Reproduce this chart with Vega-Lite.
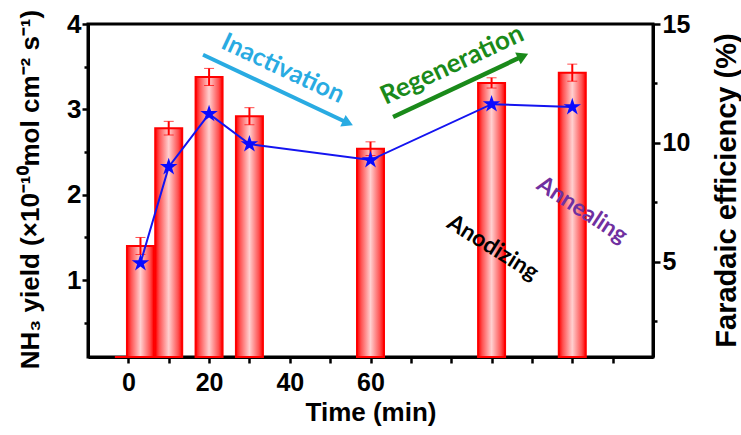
{
  "$schema": "https://vega.github.io/schema/vega-lite/v6.json",
  "width": 565,
  "height": 333,
  "autosize": {"type": "none"},
  "padding": {"left": 88, "top": 24, "right": 88, "bottom": 78},
  "background": "white",
  "datasets": {
    "main": [
      {"time": 0, "yield": 0.1, "err": null, "fe": null},
      {"time": 3, "yield": 1.40, "err": 0.10, "fe": 4.95},
      {"time": 10, "yield": 2.78, "err": 0.08, "fe": 8.99},
      {"time": 20, "yield": 3.38, "err": 0.10, "fe": 11.22},
      {"time": 30, "yield": 2.92, "err": 0.10, "fe": 9.95},
      {"time": 60, "yield": 2.54, "err": 0.08, "fe": 9.28},
      {"time": 90, "yield": 3.31, "err": 0.06, "fe": 11.63},
      {"time": 110, "yield": 3.43, "err": 0.10, "fe": 11.51}
    ]
  },
  "layer": [
    {
      "layer": [
        {
          "data": {"name": "main"},
          "mark": {
            "type": "bar",
            "size": 27,
            "stroke": "#ff0000",
            "strokeWidth": 2,
            "fill": {
              "gradient": "linear",
              "x1": 0, "y1": 0, "x2": 1, "y2": 0,
              "stops": [
                {"offset": 0, "color": "#ff0000"},
                {"offset": 0.15, "color": "#ff5050"},
                {"offset": 0.5, "color": "#ffd0d0"},
                {"offset": 0.85, "color": "#ff5050"},
                {"offset": 1, "color": "#ff0000"}
              ]
            }
          },
          "encoding": {
            "x": {
              "field": "time", "type": "quantitative",
              "scale": {"domain": [-10, 130], "nice": false, "zero": false, "padding": 0},
              "title": "Time (min)",
              "axis": {
                "values": [0, 10, 20, 30, 40, 50, 60, 70, 80, 90, 100, 110, 120],
                "labelExpr": "datum.value <= 60 && datum.value % 20 == 0 ? datum.label : ''",
                "tickSize": 6,
                "labelBaseline": "alphabetic",
                "labelPadding": 27,
                "labelFontSize": 25,
                "titleFontSize": 26,
                "titleBaseline": "alphabetic",
                "titleY": 63
              }
            },
            "y": {
              "field": "yield", "type": "quantitative",
              "scale": {"domain": [0.1, 4], "nice": false, "zero": false},
              "title": "NH₃ yield (×10⁻¹⁰mol cm⁻² s⁻¹)",
              "axis": {
                "values": [0.5, 1, 1.5, 2, 2.5, 3, 3.5, 4],
                "labelExpr": "datum.value % 1 == 0 ? format(datum.value, 'd') : ''",
                "tickSize": {"condition": {"test": "datum.value % 1 != 0", "value": 4}, "value": 6},
                "labelPadding": 1,
                "labelFontSize": 26,
                "titleFontSize": 26,
                "titleAngle": 270,
                "titleBaseline": "middle",
                "titleAlign": "center",
                "titleX": -58,
                "titleY": 165
              }
            },
            "y2": {"datum": 0.1}
          }
        },
        {
          "data": {"name": "main"},
          "transform": [{"filter": "datum.err != null"}],
          "mark": {
            "type": "errorbar",
            "color": "#ff0000",
            "ticks": {"size": 10, "strokeWidth": 2, "color": "#ff0000"},
            "rule": {"strokeWidth": 2, "color": "#ff0000"}
          },
          "encoding": {
            "x": {"field": "time", "type": "quantitative", "title": "Time (min)"},
            "y": {"field": "yield", "type": "quantitative", "title": "NH₃ yield (×10⁻¹⁰mol cm⁻² s⁻¹)"},
            "yError": {"field": "err"}
          }
        },
        {
          "data": {"values": [
            {"time": 18.5, "yield": 3.64, "time2": 54.4, "yield2": 2.84, "arrow": "Inactivation"}
          ]},
          "mark": {"type": "rule", "color": "#29abe2", "strokeWidth": 4},
          "encoding": {
            "x": {"field": "time", "type": "quantitative", "title": "Time (min)"},
            "y": {"field": "yield", "type": "quantitative", "title": "NH₃ yield (×10⁻¹⁰mol cm⁻² s⁻¹)"},
            "x2": {"field": "time2"},
            "y2": {"field": "yield2"}
          }
        },
        {
          "data": {"values": [{"time": 54.4, "yield": 2.84}]},
          "mark": {"type": "point", "shape": "triangle-right", "filled": true, "opacity": 1, "color": "#29abe2", "size": 160, "angle": 25},
          "encoding": {
            "x": {"field": "time", "type": "quantitative", "title": "Time (min)"},
            "y": {"field": "yield", "type": "quantitative", "title": "NH₃ yield (×10⁻¹⁰mol cm⁻² s⁻¹)"}
          }
        },
        {
          "data": {"values": [
            {"time": 65.6, "yield": 2.91, "time2": 97.8, "yield2": 3.625, "arrow": "Regeneration"}
          ]},
          "mark": {"type": "rule", "color": "#1a8a1a", "strokeWidth": 4.5},
          "encoding": {
            "x": {"field": "time", "type": "quantitative", "title": "Time (min)"},
            "y": {"field": "yield", "type": "quantitative", "title": "NH₃ yield (×10⁻¹⁰mol cm⁻² s⁻¹)"},
            "x2": {"field": "time2"},
            "y2": {"field": "yield2"}
          }
        },
        {
          "data": {"values": [{"time": 97.8, "yield": 3.625}]},
          "mark": {"type": "point", "shape": "triangle-right", "filled": true, "opacity": 1, "color": "#1a8a1a", "size": 170, "angle": -25},
          "encoding": {
            "x": {"field": "time", "type": "quantitative", "title": "Time (min)"},
            "y": {"field": "yield", "type": "quantitative", "title": "NH₃ yield (×10⁻¹⁰mol cm⁻² s⁻¹)"}
          }
        },
        {
          "data": {"values": [{"label": "Inactivation", "time": 38.3, "yield": 3.48}]},
          "mark": {"type": "text", "font": "Lato", "fontWeight": "bold", "fontSize": 25, "color": "#29abe2", "angle": 25, "align": "center", "baseline": "middle"},
          "encoding": {
            "x": {"field": "time", "type": "quantitative", "title": "Time (min)"},
            "y": {"field": "yield", "type": "quantitative", "title": "NH₃ yield (×10⁻¹⁰mol cm⁻² s⁻¹)"},
            "text": {"field": "label"}
          }
        },
        {
          "data": {"values": [{"label": "Regeneration", "time": 80.2, "yield": 3.52}]},
          "mark": {"type": "text", "font": "Lato", "fontWeight": "bold", "fontSize": 26, "color": "#1a8a1a", "angle": -25, "align": "center", "baseline": "middle"},
          "encoding": {
            "x": {"field": "time", "type": "quantitative", "title": "Time (min)"},
            "y": {"field": "yield", "type": "quantitative", "title": "NH₃ yield (×10⁻¹⁰mol cm⁻² s⁻¹)"},
            "text": {"field": "label"}
          }
        },
        {
          "data": {"values": [{"label": "Anodizing", "time": 90.3, "yield": 1.38}]},
          "mark": {"type": "text", "font": "Lato", "fontWeight": "bold", "fontSize": 23, "color": "#000000", "angle": 32, "align": "center", "baseline": "middle"},
          "encoding": {
            "x": {"field": "time", "type": "quantitative", "title": "Time (min)"},
            "y": {"field": "yield", "type": "quantitative", "title": "NH₃ yield (×10⁻¹⁰mol cm⁻² s⁻¹)"},
            "text": {"field": "label"}
          }
        },
        {
          "data": {"values": [{"label": "Annealing", "time": 112.4, "yield": 1.82}]},
          "mark": {"type": "text", "font": "Lato", "fontWeight": "bold", "fontSize": 23, "color": "#7030a0", "angle": 33, "align": "center", "baseline": "middle"},
          "encoding": {
            "x": {"field": "time", "type": "quantitative", "title": "Time (min)"},
            "y": {"field": "yield", "type": "quantitative", "title": "NH₃ yield (×10⁻¹⁰mol cm⁻² s⁻¹)"},
            "text": {"field": "label"}
          }
        }
      ]
    },
    {
      "data": {"name": "main"},
      "transform": [{"filter": "datum.fe != null"}],
      "layer": [
        {
          "mark": {"type": "line", "color": "#1414f0", "strokeWidth": 2},
          "encoding": {
            "x": {"field": "time", "type": "quantitative", "title": "Time (min)"},
            "y": {
              "field": "fe", "type": "quantitative",
              "scale": {"domain": [1, 15], "nice": false, "zero": false},
              "title": "Faradaic efficiency (%)",
              "axis": {
                "orient": "right",
                "values": [2.5, 5, 7.5, 10, 12.5, 15],
                "labelExpr": "datum.value % 5 == 0 ? datum.label : ''",
                "tickSize": {"condition": {"test": "datum.value % 5 != 0", "value": 4}, "value": 7},
                "labelPadding": 2,
                "labelFontSize": 25,
                "titleFontSize": 29,
                "titleAngle": 270,
                "titleBaseline": "middle",
                "titleAlign": "center",
                "titleX": 73,
                "titleY": 166
              }
            }
          }
        },
        {
          "mark": {
            "type": "point",
            "shape": "M0,-1L0.2245,-0.309L0.951,-0.309L0.363,0.118L0.588,0.809L0,0.382L-0.588,0.809L-0.363,0.118L-0.951,-0.309L-0.2245,-0.309Z",
            "filled": true,
            "opacity": 1,
            "color": "#0a0aff",
            "size": 340
          },
          "encoding": {
            "x": {"field": "time", "type": "quantitative", "title": "Time (min)"},
            "y": {"field": "fe", "type": "quantitative", "title": "Faradaic efficiency (%)"}
          }
        }
      ]
    }
  ],
  "resolve": {"scale": {"y": "independent"}, "axis": {"y": "independent"}},
  "config": {
    "view": {"stroke": "black", "strokeWidth": 3},
    "axis": {
      "grid": false,
      "domainColor": "black",
      "domainWidth": 3,
      "tickColor": "black",
      "tickWidth": 2.5,
      "labelFont": "Liberation Sans",
      "labelFontWeight": "bold",
      "labelColor": "black",
      "titleFont": "Liberation Sans",
      "titleFontWeight": "bold",
      "titleColor": "black"
    }
  }
}
